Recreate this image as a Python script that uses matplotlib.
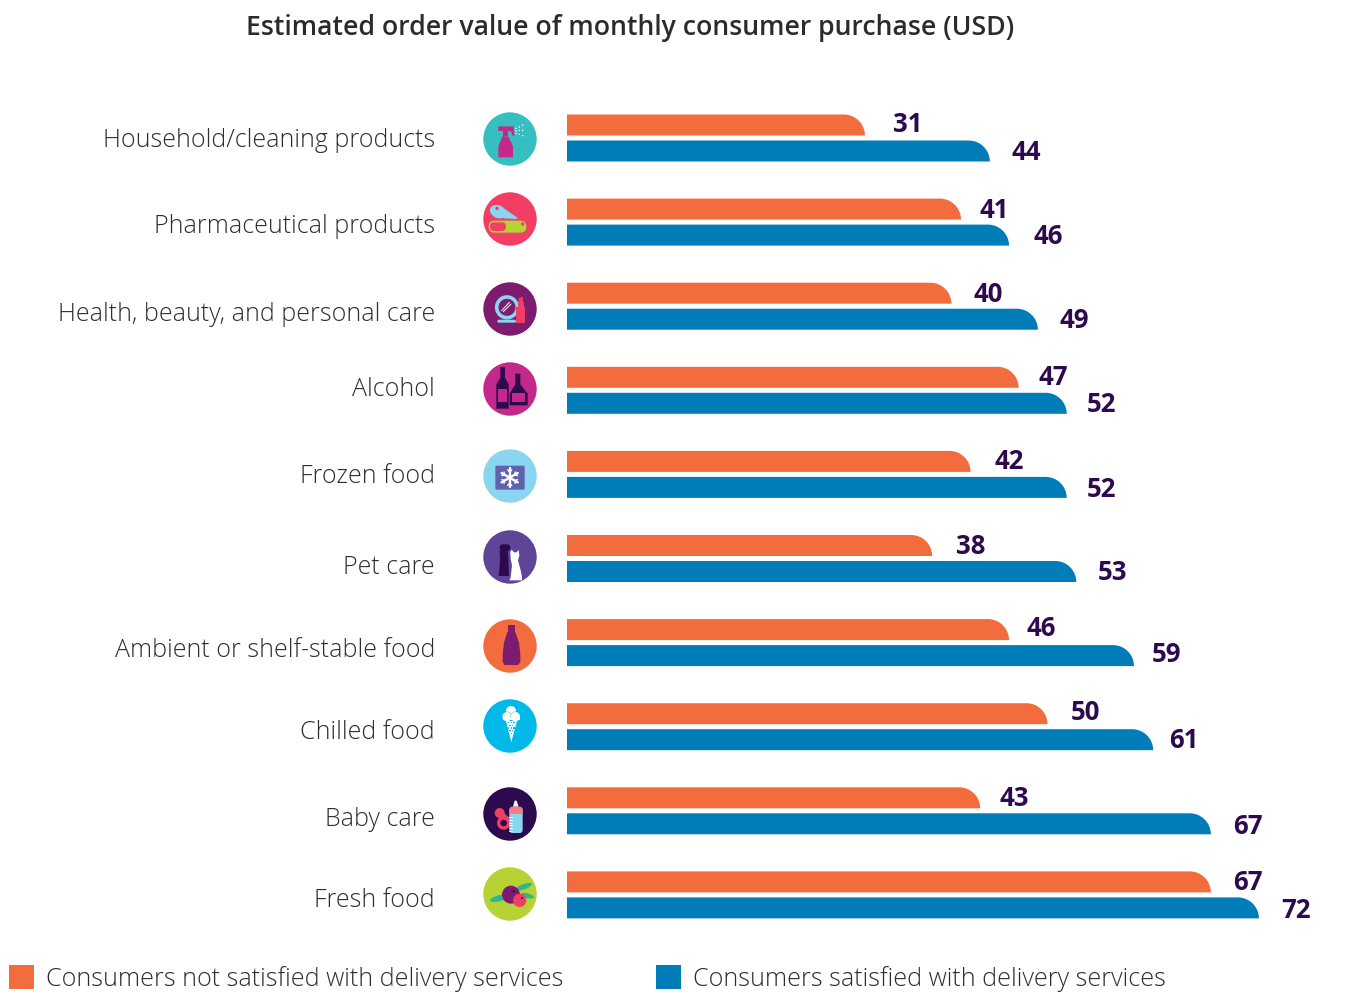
import numpy as np
from matplotlib import pyplot as plt
from matplotlib.patches import Circle, Ellipse, PathPatch, Polygon, Rectangle, FancyBboxPatch
from matplotlib.path import Path

categories = ['Household/cleaning products', 'Pharmaceutical products',
              'Health, beauty, and personal care', 'Alcohol', 'Frozen food', 'Pet care',
              'Ambient or shelf-stable food', 'Chilled food', 'Baby care', 'Fresh food']
not_satisfied = [31, 41, 40, 47, 42, 38, 46, 50, 43, 67]
satisfied = [44, 46, 49, 52, 52, 53, 59, 61, 67, 72]
title = 'Estimated order value of monthly consumer purchase (USD)'
legend_labels = ['Consumers not satisfied with delivery services',
                 'Consumers satisfied with delivery services']

ORANGE = '#F36C3D'
BLUE = '#007DB8'
DARK = '#2D0A4E'
TEXT = '#2E2E30'
PINK = '#C4288A'
RED = '#F03E64'
SKY = '#8AD5F0'
LIME = '#B5D334'
PLUM = '#7D1B6E'
CYAN = '#00B9E8'
FONT = 'Open Sans'

W, H = 1370, 992
X0, PX_PER_UNIT = 567, 9.61
ROW0, ROW_STEP = 138, 84.1
BAR_H, BAR_OFF = 21, 13

# layout that does not follow the row grid in the original
label_y = [140.5, 226.5, 314.5, 389.5, 476.5, 567.5, 650.5, 732.5, 819.5, 900.5]
icon_y = [139, 219, 309, 389, 476, 557, 646, 726, 814, 894]
orange_dx = [28, 18, 22, 20, 24, 24, 17, 23, 19, 22]
orange_dy = [-1, 0.9, 1.8, -0.3, -0.4, 0.5, -1.6, -1.7, 0.2, 1.1]
blue_dx = [22, 24, 22, 20, 20, 21, 18, 16, 22, 22]
blue_dy = [1, 1.9, 1.8, 1.7, 1.6, 1.5, -0.6, 0.3, 2.2, 2.1]

fig = plt.figure(figsize=(W / 100, H / 100), dpi=100, facecolor='white')

# page axes in pixels, for text and icons
page = fig.add_axes([0, 0, 1, 1], zorder=2)
page.set_xlim(0, W)
page.set_ylim(H, 0)
page.set_aspect('equal')
page.axis('off')
page.patch.set_alpha(0)

# bar axes: x in USD, y in rows
ax_left = X0
ax_width = 80 * PX_PER_UNIT
ax_top = ROW0 - ROW_STEP / 2
ax_height = ROW_STEP * len(categories)
ax = fig.add_axes([ax_left / W, 1 - (ax_top + ax_height) / H, ax_width / W, ax_height / H], zorder=1)
ax.set_xlim(0, 80)
ax.set_ylim(len(categories) - 0.5, -0.5)
ax.axis('off')


def round_bar(y_center, value, color):
    # bar with only its top right corner rounded
    h = BAR_H / ROW_STEP
    rx = 21 / PX_PER_UNIT
    top = y_center - h / 2
    bot = y_center + h / 2
    k = 0.55
    verts = [(0, bot), (0, top), (value - rx, top),
             (value - rx + k * rx, top), (value, top + (1 - k) * h), (value, bot),
             (0, bot)]
    codes = [Path.MOVETO, Path.LINETO, Path.LINETO, Path.CURVE4, Path.CURVE4, Path.CURVE4, Path.CLOSEPOLY]
    ax.add_patch(PathPatch(Path(verts, codes), facecolor=color, edgecolor='none'))


for i in range(len(categories)):
    yo = i - BAR_OFF / ROW_STEP
    yb = i + BAR_OFF / ROW_STEP
    round_bar(yo, not_satisfied[i], ORANGE)
    round_bar(yb, satisfied[i], BLUE)
    ax.annotate(str(not_satisfied[i]), (not_satisfied[i], yo), xytext=(orange_dx[i], -orange_dy[i]),
                textcoords='offset pixels', ha='left', va='center', color=DARK,
                fontsize=18.5, fontweight='bold', family=FONT)
    ax.annotate(str(satisfied[i]), (satisfied[i], yb), xytext=(blue_dx[i], -blue_dy[i]),
                textcoords='offset pixels', ha='left', va='center', color=DARK,
                fontsize=18.5, fontweight='bold', family=FONT)
    page.text(435, label_y[i], categories[i], ha='right', va='center', color=TEXT,
              fontsize=18, fontweight='light', family=FONT)

page.text(630.5, 28.5, title, ha='center', va='center', color='#2B2B2B', fontsize=19.2,
          fontweight='semibold', family=FONT)

page.add_patch(Rectangle((9, 965), 25, 24, color=ORANGE, lw=0))
page.add_patch(Rectangle((656, 965), 25, 24, color=BLUE, lw=0))
page.text(46, 979.5, legend_labels[0], ha='left', va='center', color=TEXT, fontsize=18.05,
          fontweight='light', family=FONT)
page.text(693, 979.5, legend_labels[1], ha='left', va='center', color=TEXT, fontsize=18.05,
          fontweight='light', family=FONT)


class Icon:
    # shapes are given in coordinates relative to the circle centre, 3 units a pixel
    def __init__(self, cy, color):
        self.cx, self.cy = 510, cy
        self.z = 5
        page.add_patch(Circle((self.cx, cy), 26.7, color=color, lw=0, zorder=self.z))

    def pt(self, x, y):
        return self.cx + x / 3, self.cy + y / 3

    def poly(self, pts, color):
        self.z += 1
        page.add_patch(Polygon([self.pt(*p) for p in pts], closed=True, color=color, lw=0, zorder=self.z))

    def rect(self, x0, y0, x1, y1, color):
        self.poly([(x0, y0), (x1, y0), (x1, y1), (x0, y1)], color)

    def circ(self, x, y, r, color):
        self.z += 1
        page.add_patch(Circle(self.pt(x, y), r / 3, color=color, lw=0, zorder=self.z))

    def ell(self, x, y, w, h, color, angle=0):
        self.z += 1
        page.add_patch(Ellipse(self.pt(x, y), w / 3, h / 3, angle=angle, color=color, lw=0, zorder=self.z))

    def ring(self, x, y, r, lw, color):
        self.z += 1
        page.add_patch(Circle(self.pt(x, y), r / 3, fill=False, edgecolor=color, lw=lw, zorder=self.z))

    def pill(self, x0, y0, x1, y1, color, r=None):
        self.z += 1
        if r is None:
            r = (y1 - y0) / 6
        a, b = self.pt(x0, y0), self.pt(x1, y1)
        page.add_patch(FancyBboxPatch((a[0] + r, a[1] + r), b[0] - a[0] - 2 * r, b[1] - a[1] - 2 * r,
                                      boxstyle='round,pad=%f,rounding_size=%f' % (r, r),
                                      color=color, lw=0, zorder=self.z))

    def line(self, pts, color, lw=1.0, ls='-'):
        self.z += 1
        xy = np.array([self.pt(*p) for p in pts])
        page.plot(xy[:, 0], xy[:, 1], color=color, lw=lw, ls=ls, zorder=self.z, solid_capstyle='round')


# spray bottle
ic = Icon(icon_y[0], '#36BFC1')
ic.poly([(-35, 55), (-35, 22), (-23, -8), (-5, -8), (9, 22), (9, 55)], PINK)
ic.rect(-22, -24, -6, -8, PINK)
ic.poly([(-35, -38), (11, -38), (11, -24), (14, -10), (8, -10), (2, -24), (-35, -24)], PINK)
for x, y in [(18, -32), (28, -36), (38, -42), (18, -24), (28, -26), (38, -26), (18, -16), (28, -14), (38, -10)]:
    ic.circ(x, y, 2.2, 'white')

# pills
ic = Icon(icon_y[1], RED)
ic.pill(-64, 5, 49, 41, LIME)
ic.pill(-60, 10, -12, 36, RED)
ic.circ(38, 15, 5, RED)
ic.poly([(-30, -40), (24, -3), (18, 0), (-20, -2)], SKY)
ic.ell(-36, -22, 50, 38, SKY, angle=25)
ic.circ(-39, -32, 5, RED)

# mirror and lipstick
ic = Icon(icon_y[2], PLUM)
ic.ring(-9, -5, 31, 2.6, SKY)
ic.line([(-25, 5), (-2, -20)], '#E9E3EF', 0.8)
ic.line([(-20, 8), (3, -15)], '#E9E3EF', 0.8)
ic.pill(-38, 32, 18, 41, SKY)
ic.rect(19, -5, 44, 41, RED)
ic.rect(23, -20, 41, -5, RED)
ic.poly([(26, -20), (26, -32), (39, -37), (39, -20)], RED)

# bottles
ic = Icon(icon_y[3], PINK)
ic.poly([(-41, 59), (-41, -14), (-29, -34), (-29, -66), (-15, -66), (-15, -34), (-4, -14), (-4, 59)], DARK)
ic.rect(-35, -1, -9, 39, PINK)
ic.poly([(-1, 49), (-1, 14), (16, -14), (16, -46), (31, -46), (31, -14), (53, 14), (53, 49)], DARK)
ic.rect(6, 12, 46, 40, PINK)

# freezer
ic = Icon(icon_y[4], SKY)
ic.pill(-44, -31, 44, 41, '#5F62AC', r=1.2)
for ang in [90, 30, -30]:
    ca, sa = np.cos(np.radians(ang)), np.sin(np.radians(ang))
    ic.line([(-1 - 28 * ca, 5 - 28 * sa), (-1 + 28 * ca, 5 + 28 * sa)], 'white', 1.7)
    for s in [-1, 1]:
        for b in [-1, 1]:
            bx, by = np.cos(np.radians(ang + b * 45)), np.sin(np.radians(ang + b * 45))
            mx, my = -1 + s * 17 * ca, 5 + s * 17 * sa
            ic.line([(mx, my), (mx + s * 9 * bx, my + s * 9 * by)], 'white', 1.0)

# dog and cat
ic = Icon(icon_y[5], '#5F4498')
ic.poly([(-31, -20), (-7, -20), (-5, 0), (-3, 57), (-34, 57), (-30, 10)], DARK)
ic.pill(-31, -38, 1, -18, DARK)
ic.poly([(1, -15), (5, -22), (12, -14), (20, -14), (26, -22), (28, -4), (24, 10), (32, 40), (36, 60),
         (36, 70), (-2, 70), (2, 62), (6, 25), (2, 5)], 'white')

# shelf stable bottle
ic = Icon(icon_y[6], ORANGE)
ic.rect(-6, -63, 14, -42, PLUM)
ic.poly([(-8, -42), (16, -42), (27, -10), (31, 25), (31, 48), (24, 57), (-16, 57), (-22, 48), (-22, 25), (-18, -10)], PLUM)

# ice cream
ic = Icon(icon_y[7], CYAN)
ic.circ(3, -45, 15, 'white')
ic.circ(-9, -28, 15, CYAN)
ic.circ(-9, -28, 14, 'white')
ic.circ(16, -28, 15, CYAN)
ic.circ(16, -28, 14, 'white')
ic.rect(-22, -25, 31, -18, 'white')
ic.poly([(-12, -15), (21, -15), (4, 48)], 'white')
for row, y in enumerate(range(-10, 38, 8)):
    half = 16.5 * (48 - y) / 63
    for k in range(-3, 4):
        x = 4.5 + k * 8 + (row % 2) * 4
        if abs(x - 4.5) < half - 2:
            ic.rect(x - 2, y - 2, x + 2, y + 2, CYAN)

# baby bottle and pacifier
ic = Icon(icon_y[8], DARK)
ic.ring(-19, 27, 15, 2.4, RED)
ic.circ(-31, -3, 15, RED)
ic.poly([(-30, -12), (0, 12), (-6, 22), (-36, 6)], RED)
ic.pill(-2, -20, 38, 57, SKY, r=3)
ic.pill(-2, -22, 38, 0, '#F47C85', r=3)
ic.poly([(9, -22), (14, -40), (20, -40), (26, -22)], '#F1EFF6')
for y in range(10, 52, 8):
    ic.line([(-2, y), (6, y)], 'white', 0.7)

# berries
ic = Icon(icon_y[9], LIME)
ic.ell(-30, 12, 62, 18, '#2FB58F', angle=-15)
ic.ell(42, -22, 50, 16, '#2FB58F', angle=-20)
ic.ell(52, 5, 40, 14, '#2FB58F', angle=15)
ic.circ(3, 2, 27, PLUM)
ic.circ(11, -8, 3.5, DARK)
ic.circ(29, 19, 20, RED)
ic.circ(36, 12, 3, DARK)

fig.savefig('out.png', dpi=100, facecolor='white')
